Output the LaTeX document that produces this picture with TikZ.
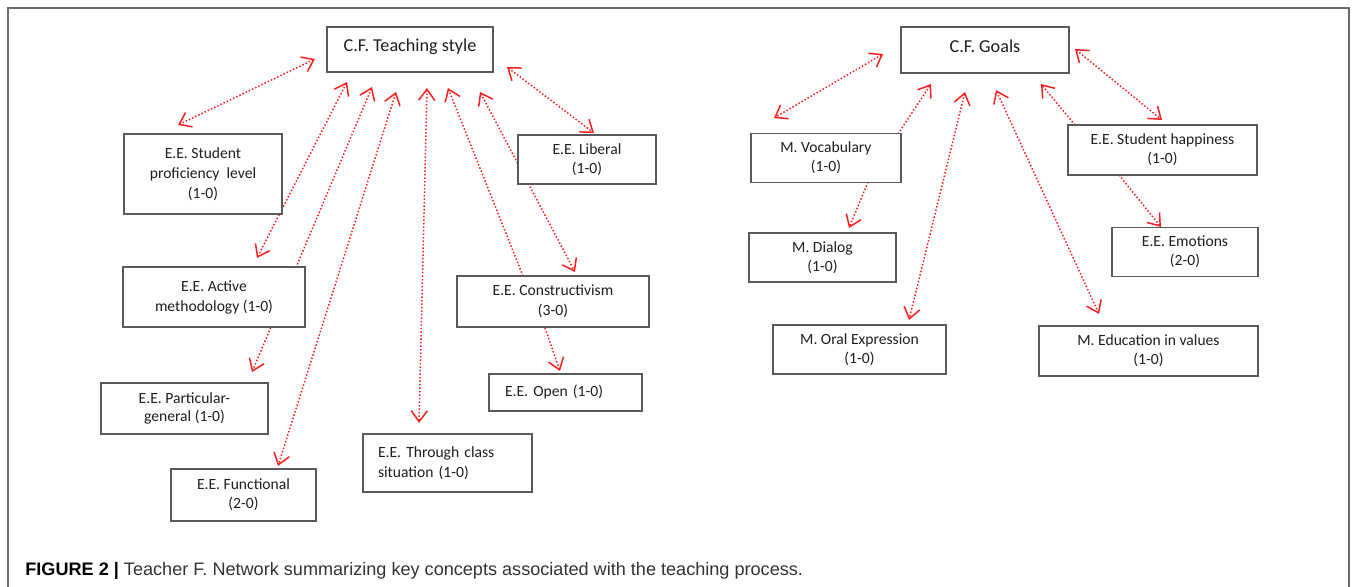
\documentclass[tikz,border=0pt]{standalone}
\usepackage{fontspec}
\setmainfont{Carlito}
\newfontfamily\capfont{Liberation Sans}
\usetikzlibrary{arrows.meta}
\definecolor{arrred}{HTML}{FF1E1E}
\definecolor{boxgray}{HTML}{5A5A5A}
\definecolor{framegray}{HTML}{6A6A6A}
\definecolor{captxt}{HTML}{333333}
\tikzset{
  >={Straight Barb[length=5.5pt,width=8pt,line width=0.75pt]},
  arr/.style={draw=arrred, line width=0.75pt, densely dotted},
  wh/.style 2 args={minimum width=#1*0.5pt, minimum height=#2*0.5pt},
  bx/.style={draw=boxgray, line width=0.8pt, fill=white, inner sep=0pt, align=center,
             font=\fontsize{7.8}{9.4}\selectfont, text=black!88},
  ttl/.style={bx, font=\fontsize{9.1}{11}\selectfont},
}
\begin{document}
\begin{tikzpicture}[x=0.5pt,y=-0.5pt]
\useasboundingbox (0,0) rectangle (1357,587);
% outer frame
\draw[framegray, line width=1.1pt] (8,600) -- (8,8) -- (1349,8) -- (1349,600);

% ---------- arrow end points ----------
\coordinate (a1s) at (315,59);  \coordinate (a1e) at (178,125);
\coordinate (a2s) at (347,82);  \coordinate (a2e) at (257,258);
\coordinate (a3s) at (372,87);  \coordinate (a3e) at (252,372);
\coordinate (a4s) at (396,92);  \coordinate (a4e) at (278,466);
\coordinate (a5s) at (427,88);  \coordinate (a5e) at (419,423);
\coordinate (a6s) at (523,276); \coordinate (a6e) at (448,88);
\coordinate (a7s) at (480,92);  \coordinate (a7e) at (575,272);
\coordinate (a8s) at (507,67);  \coordinate (a8e) at (594,133);
\coordinate (a9s) at (545,328); \coordinate (a9e) at (560,371);
\coordinate (b1s) at (883,54);  \coordinate (b1e) at (774,118);
\coordinate (b2s) at (898,134); \coordinate (b2e) at (931,84);
\coordinate (b3s) at (868,182); \coordinate (b3e) at (849,228);
\coordinate (b4s) at (965,92);  \coordinate (b4e) at (909,320);
\coordinate (b5s) at (996,90);  \coordinate (b5e) at (1099,314);
\coordinate (b6s) at (1075,125); \coordinate (b6e) at (1041,84);
\coordinate (b7s) at (1075,49); \coordinate (b7e) at (1162,120);
\coordinate (b8s) at (1119,175); \coordinate (b8e) at (1161,227);

% ---------- arrows ----------
\draw[arr,<->] (a1s) -- (a1e);
\draw[arr,<->] (a2s) -- (a2e);
\draw[arr,<->] (a3s) -- (a3e);
\draw[arr,<->] (a4s) -- (a4e);
\draw[arr,<->] (a5s) -- (a5e);
\draw[arr,->]  (a6s) -- (a6e);
\draw[arr,<->] (a7s) -- (a7e);
\draw[arr,<->] (a8s) -- (a8e);
\draw[arr,->]  (a9s) -- (a9e);
\draw[arr,<->] (b1s) -- (b1e);
\draw[arr,->]  (b2s) -- (b2e);
\draw[arr,->]  (b3s) -- (b3e);
\draw[arr,<->] (b4s) -- (b4e);
\draw[arr,<->] (b5s) -- (b5e);
\draw[arr,->]  (b6s) -- (b6e);
\draw[arr,<->] (b7s) -- (b7e);
\draw[arr,->]  (b8s) -- (b8e);

% ---------- boxes (left) ----------
\node[ttl, wh={166}{45}] (ts) at (410,49.5) {\raisebox{4pt}{C.F. Teaching style}};
\node[bx, wh={158}{80}] (sp) at (203,174) {E.E. Student\\[0.6pt] proficiency\ \ level\\[0.6pt] (1-0)};
\node[bx, wh={138}{49}] (lib) at (587,159.5) {E.E. Liberal\\ (1-0)};
\node[bx, wh={182}{60}] (am) at (214,297) {E.E. Active\\[0.6pt] methodology (1-0)};
\node[bx, wh={192}{51}] (con) at (553,301.5) {E.E. Constructivism\\[0.6pt] (3-0)};
\node[bx, wh={167}{51}] (pg) at (184.5,408.5) {E.E. Particular-\\ general (1-0)};
\node[bx, wh={145}{52}] (fun) at (243.5,495) {E.E. Functional\\ (2-0)};
\node[bx, align=left, minimum height=58*0.5pt, inner xsep=15*0.5pt, text width=139*0.5pt] (thr) at (447.5,463) {E.E. Through class\\[0.6pt] situation (1-0)};
\node[bx, align=left, minimum height=37*0.5pt, inner xsep=16*0.5pt, text width=121*0.5pt] (open) at (565.5,392.5) {E.E. Open (1-0)};

% ---------- boxes (right) ----------
\node[ttl, wh={168}{46}] (goals) at (985,50) {\raisebox{4pt}{C.F. Goals}};
\node[bx, wh={150}{49}] (voc) at (826,158) {M. Vocabulary\\ (1-0)};
\node[bx, wh={189}{50}] (hap) at (1162.5,150) {E.E. Student happiness\\ (1-0)};
\node[bx, wh={147}{49}] (dia) at (822.5,257.5) {M. Dialog\\ (1-0)};
\node[bx, wh={146}{49}] (emo) at (1185,252) {E.E. Emotions\\ (2-0)};
\node[bx, wh={173}{49}] (oral) at (859.5,349.5) {M. Oral Expression\\ (1-0)};
\node[bx, wh={219}{50}] (edu) at (1148.5,351) {M. Education in values\\ (1-0)};

% ---------- caption ----------
\node[anchor=base west, inner sep=0pt, font=\capfont\fontsize{9.05}{11}\selectfont] (cap) at (25,575.5)
  {\textbf{FIGURE 2 |} \textcolor{captxt}{Teacher F. Network summarizing key concepts associated with the teaching process.}};
\end{tikzpicture}
\end{document}
